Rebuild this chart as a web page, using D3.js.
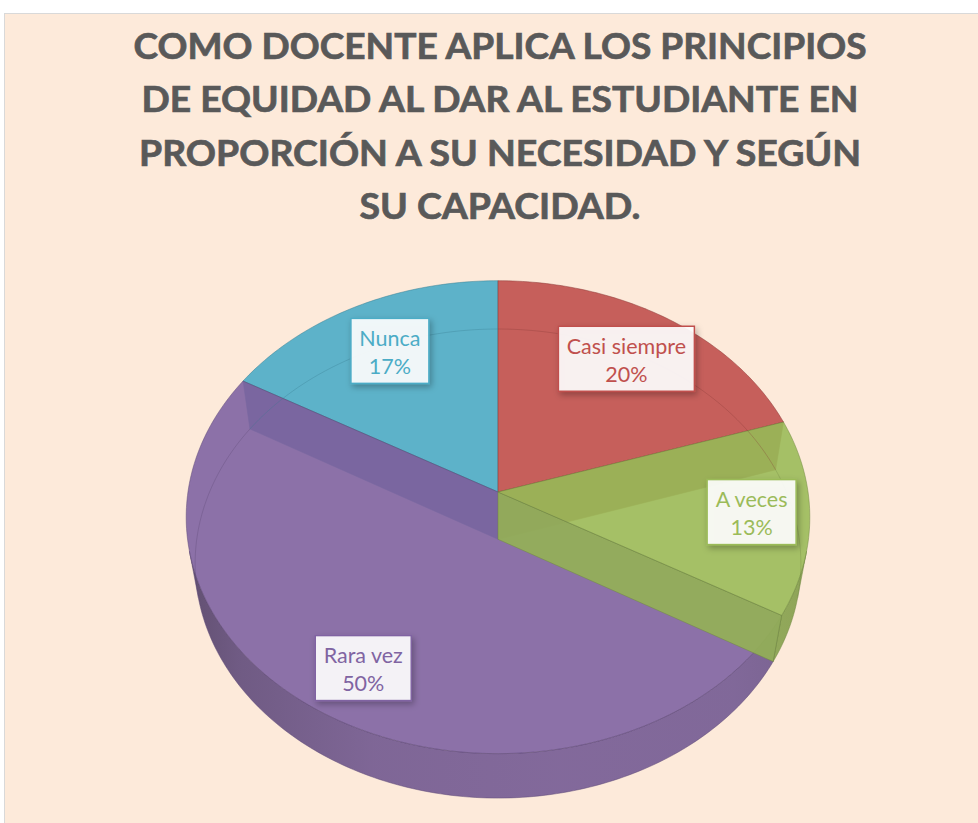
<!DOCTYPE html>
<html>
<head>
<meta charset="utf-8">
<script src="https://cdn.jsdelivr.net/npm/d3@7"></script>
<style>
  html, body { margin: 0; padding: 0; background: #fff; }
  svg { display: block; }
</style>
</head>
<body>
<div id="chart"></div>
<script>
// ── Datos ────────────────────────────────────────────────────────────────
const titleLines = [
  "COMO DOCENTE APLICA LOS PRINCIPIOS",
  "DE EQUIDAD AL DAR AL ESTUDIANTE EN",
  "PROPORCIÓN A SU NECESIDAD Y SEGÚN",
  "SU CAPACIDAD."
];
const categories = ["Casi siempre", "A veces", "Rara vez", "Nunca"];
const values     = [20, 13.33, 50, 16.67];
const colors     = ["#C0504D", "#9BBB59", "#8064A2", "#4BACC6"];

// ── Layout ───────────────────────────────────────────────────────────────
const width = 978, height = 823;
const titleWidths = [733, 717, 722, 281];   // ancho de cada línea del título
const labelRadius = [0.75, 0.815, 0.805, 0.745];
const wallDark = [0.8, 0.15, 0.6, 1.2];      // sombreado de paredes radiales
const drawOrder = [3, 0, 2, 1];              // orden de pintado (atrás → adelante)

// proyección en perspectiva de un disco de radio 1
const cam = {cx: 498, cy: 492, focal: 1913, dist: 6.17, tilt: Math.asin(0.754), depth: 0.239};
function proj(theta, r, z) {
  const x = r * Math.sin(theta), y = r * Math.cos(theta);
  const d = cam.dist + y * Math.cos(cam.tilt) - z * Math.sin(cam.tilt);
  const up = y * Math.sin(cam.tilt) + z * Math.cos(cam.tilt);
  return [cam.cx + cam.focal * x / d, cam.cy - cam.focal * up / d];
}
function rim(a0, a1, z) {
  const n = Math.max(2, Math.ceil(Math.abs(a1 - a0) / (Math.PI / 180)));
  return d3.range(n + 1).map(i => proj(a0 + (a1 - a0) * i / n, 1, z));
}
const line = d3.line();
const closed = pts => line(pts) + "Z";

// ángulos donde la pared exterior empieza a mirar al observador
const fA = Math.acos(-1 / (cam.dist * Math.cos(cam.tilt)));
const fB = 2 * Math.PI - fA;

const arcs = d3.pie().sort(null).value(d => d)(values);

const svg = d3.select("#chart").append("svg")
  .attr("width", width).attr("height", height)
  .style("font-family", "Lato, 'Open Sans', sans-serif");

const defs = svg.append("defs");
const shadow = defs.append("filter").attr("id", "lbl-shadow")
  .attr("x", "-20%").attr("y", "-20%").attr("width", "150%").attr("height", "160%");
shadow.append("feDropShadow").attr("dx", 2).attr("dy", 3)
  .attr("stdDeviation", 3).attr("flood-color", "#000").attr("flood-opacity", 0.3);

colors.forEach((c, i) => {
  const g = defs.append("linearGradient").attr("id", `side-${i}`)
    .attr("gradientUnits", "userSpaceOnUse")
    .attr("x1", proj(-Math.PI / 2, 1, 0)[0]).attr("x2", proj(Math.PI / 2, 1, 0)[0])
    .attr("y1", 0).attr("y2", 0);
  [[0, 1.3], [0.08, 0.8], [0.3, 0.35], [0.6, 0.25], [0.88, 0.3], [1, 0.5]].forEach(([o, k]) =>
    g.append("stop").attr("offset", o).attr("stop-color", d3.color(c).darker(k)));
});

// fondo
svg.append("rect").attr("x", 4.5).attr("y", 13.5)
  .attr("width", width).attr("height", height)
  .attr("fill", "#FDEADA").attr("stroke", "#D9D9D9");

// título
svg.append("g").selectAll("text").data(titleLines).join("text")
  .attr("x", 500).attr("y", (d, i) => 58.5 + i * 53.5)
  .attr("text-anchor", "middle")
  .attr("font-size", 36).attr("font-weight", "bold").attr("fill", "#595959")
  .attr("stroke", "#595959").attr("stroke-width", 0.7)
  .attr("textLength", (d, i) => titleWidths[i])
  .attr("lengthAdjust", "spacingAndGlyphs")
  .text(d => d);

// ── Torta 3D (caras con 10% de transparencia) ───────────────────────────
const pie = svg.append("g");
const c0 = proj(0, 0, 0), c1 = proj(0, 0, -cam.depth);

drawOrder.forEach(i => {
  const a = arcs[i];
  const base = d3.color(colors[i]);
  const g = pie.append("g").attr("fill-opacity", 0.9)
    .attr("stroke", base.darker(0.9)).attr("stroke-width", 0.7).attr("stroke-opacity", 0.7)
    .attr("stroke-linejoin", "round");

  // pared exterior visible
  const lo = Math.max(a.startAngle, fA), hi = Math.min(a.endAngle, fB);
  if (lo < hi) {
    g.append("path")
      .attr("d", closed(rim(lo, hi, 0).concat(rim(lo, hi, -cam.depth).reverse())))
      .attr("fill", `url(#side-${i})`);
  }
  // paredes radiales que miran al frente
  const wall = t => closed([c0, proj(t, 1, 0), proj(t, 1, -cam.depth), c1]);
  if (Math.sin(a.startAngle) < -1e-6)
    g.append("path").attr("d", wall(a.startAngle)).attr("fill", base.darker(wallDark[i]));
  if (Math.sin(a.endAngle) > 1e-6)
    g.append("path").attr("d", wall(a.endAngle)).attr("fill", base.darker(wallDark[i]));

  // cara superior
  g.append("path")
    .attr("d", closed([c0].concat(rim(a.startAngle, a.endAngle, 0))))
    .attr("fill", base);
});

// borde inferior trasero, visible a través de la cara superior
function backRim(lo, hi, i) {
  if (lo >= hi) return;
  pie.append("path").attr("d", line(rim(lo, hi, -cam.depth)))
    .attr("fill", "none").attr("stroke", d3.color(colors[i]).darker(1))
    .attr("stroke-opacity", 0.3).attr("stroke-width", 1);
}
arcs.forEach((a, i) => {
  backRim(Math.max(a.startAngle, 0), Math.min(a.endAngle, fA), i);
  backRim(Math.max(a.startAngle, fB), Math.min(a.endAngle, 2 * Math.PI), i);
});

// ── Etiquetas ────────────────────────────────────────────────────────────
const fmt = d3.format(".0%");
const total = d3.sum(values);
arcs.forEach((a, i) => {
  const mid = (a.startAngle + a.endAngle) / 2;
  const [lx, ly] = proj(mid, labelRadius[i], 0);
  const g = svg.append("g").attr("transform", `translate(${lx},${ly})`);
  const box = g.append("rect").attr("fill", "#fff").attr("fill-opacity", 0.9)
    .attr("stroke", colors[i]).attr("stroke-width", 1.5)
    .attr("filter", "url(#lbl-shadow)");
  const t = g.append("text").attr("text-anchor", "middle")
    .attr("font-size", 21.5).attr("fill", colors[i]);
  t.append("tspan").attr("x", 0).attr("y", -5).text(categories[i]);
  t.append("tspan").attr("x", 0).attr("y", 23).text(fmt(values[i] / total));
  const w = Math.max(...t.selectAll("tspan").nodes().map(n => n.getComputedTextLength()));
  const bw = Math.round(w + 17), bh = 65;
  box.attr("x", -bw / 2).attr("y", -bh / 2).attr("width", bw).attr("height", bh);
});
</script>
</body>
</html>
